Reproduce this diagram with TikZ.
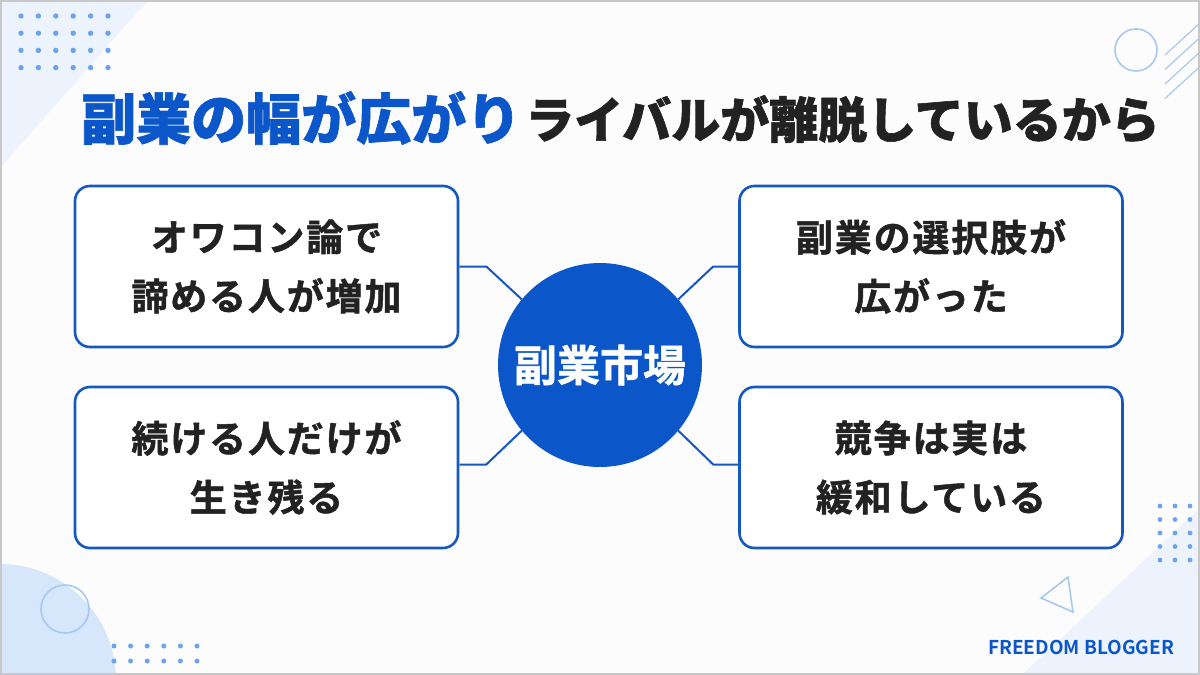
\documentclass[tikz,border=0pt]{standalone}
\usepackage{fontspec}
\newfontfamily\jpk{Noto Sans CJK JP Black}[FakeBold=1.2]
\newfontfamily\jpb{Noto Sans CJK JP Bold}
\newfontfamily\jph{Noto Sans CJK JP Bold}[FakeBold=1.2]
\newfontfamily\jpsp{Noto Sans CJK JP Bold}[LetterSpace=5,FakeBold=1.3]
\definecolor{mainblue}{HTML}{0B57C9}
\definecolor{linkblue}{HTML}{1558C0}
\definecolor{darktext}{HTML}{222222}
\definecolor{dotblue}{HTML}{6AA3EE}
\definecolor{paleblue}{HTML}{EDF3FC}
\definecolor{softblue}{HTML}{D6E6FB}
\definecolor{lineblue}{HTML}{A8C8F2}
\definecolor{framegray}{HTML}{C8C8C8}
\tikzset{
  card/.style={draw=linkblue, line width=2.6pt, rounded corners=15pt, fill=white,
    minimum width=383pt, minimum height=161pt, align=center, text=darktext,
    font=\jpsp\fontsize{37}{59}\selectfont, inner sep=0pt},
  hub/.style={circle, fill=mainblue, minimum size=204pt, inner sep=0pt, text=white,
    font=\jph\fontsize{43}{50}\selectfont},
  link/.style={draw=linkblue, line width=2pt},
  deco/.style={draw=lineblue, line width=1.6pt},
  dotc/.style={fill=dotblue}
}
\begin{document}
\begin{tikzpicture}[x=1pt,y=-1pt]
\useasboundingbox (0,0) rectangle (1200,675);
\fill[white!98!gray] (0,0) rectangle (1200,675);
\begin{scope}
\clip (0,0) rectangle (1200,675);
% background decorations
\fill[paleblue] (0,0) -- (148,0) -- (0,168) -- cycle;
\fill[paleblue] (1200,508) -- (1200,675) -- (1022,675) -- cycle;
\fill[softblue] (0,680) circle[radius=116pt];
\draw[deco] (65,609) circle[radius=24pt];
\draw[deco] (1136,50) circle[radius=21pt];
\foreach \k in {0,1,2,3} {
  \draw[deco, line width=1.2pt] (1165,55+14.5*\k) -- (1200,23+14.5*\k);
}
\draw[deco] (1068,577) -- (1041,598) -- (1073,612) -- cycle;
% dot grids
\foreach \i in {0,...,5} \foreach \j in {0,...,3} {
  \fill[dotc] (21+17.4*\i,16+17.2*\j) circle[radius=2.7pt];
}
\foreach \i in {0,...,5} \foreach \j in {0,1} {
  \fill[dotc] (114+16.6*\i,646+15*\j) circle[radius=2.5pt];
}
\foreach \i in {0,...,2} \foreach \j in {0,...,4} {
  \fill[dotc] (1160+15*\i,506+13.5*\j) circle[radius=2.4pt];
}
\end{scope}
\draw[framegray, line width=2pt] (1,1) rectangle (1199,674);
% title
\node[anchor=west, inner sep=0pt, text=mainblue, font=\jpk\fontsize{55}{60}\selectfont] (t1) at (81,118) {副業の幅が広がり};
\node[anchor=west, inner sep=0pt, text=darktext, font=\jpk\fontsize{49}{56}\selectfont] (t2) at (525,119) {ライバルが離脱しているから};
% hub and cards
\node[hub] (c) at (600,365) {副業市場};
\node[card] (b1) at (266.5,266.5) {オワコン論で\\諦める人が増加};
\node[card] (b2) at (931,266.5) {副業の選択肢が\\広がった};
\node[card] (b3) at (266.5,467.5) {続ける人だけが\\生き残る};
\node[card] (b4) at (931,467.5) {競争は実は\\緩和している};
% connectors
\draw[link] (b1.east) -- ++(27,0) -- (c.140);
\draw[link] (b2.west) -- ++(-25,0) -- (c.40);
\draw[link] ([yshift=3pt]b3.east) -- ++(27,0) -- (c.220);
\draw[link] ([yshift=3pt]b4.west) -- ++(-25,0) -- (c.320);
% brand
\node[inner sep=0pt, text=mainblue, font=\jpb\fontsize{19}{22}\selectfont] (brand) at (1081,647) {FREEDOM BLOGGER};
\end{tikzpicture}
\end{document}
